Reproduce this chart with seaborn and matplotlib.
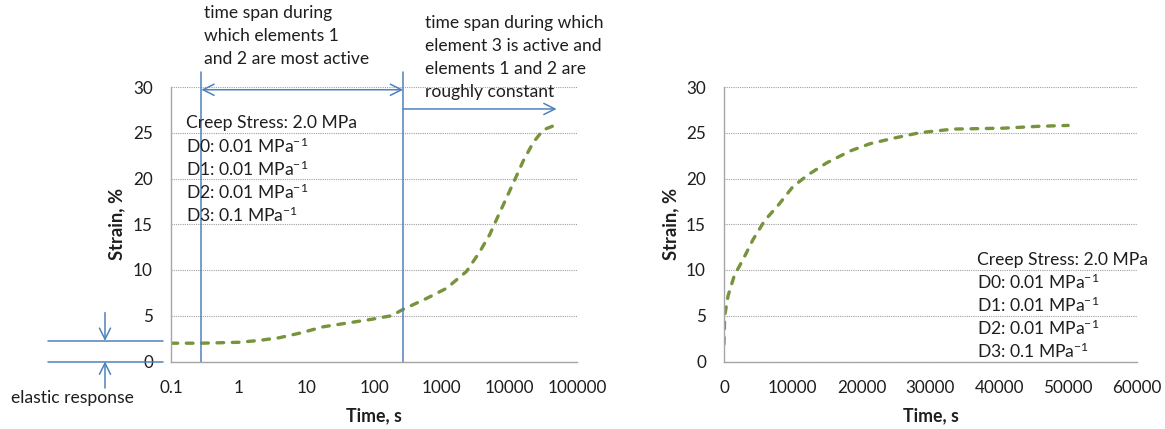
import numpy as np
import pandas as pd
import seaborn as sns
import matplotlib.pyplot as plt
from matplotlib.ticker import FixedLocator, FixedFormatter, NullLocator

# creep curve
time_log = [0.1, 0.28, 1, 2, 4, 8, 18, 40, 90, 180, 270, 600, 1180, 2330, 3660,
            5150, 6450, 9100, 12100, 16000, 22400, 31500, 50000]
strain_log = [2.0, 2.0, 2.1, 2.3, 2.6, 3.1, 3.8, 4.2, 4.6, 5.0, 5.7, 6.9, 8.0, 9.85, 12.0,
              13.9, 15.5, 17.9, 19.9, 21.9, 23.9, 25.3, 25.9]

# same curve
time_lin = [0, 100, 600, 1500, 2800, 4200, 5900, 7900, 10000, 12200, 14900, 18300,
            21200, 24600, 28400, 33300, 40600, 45600, 50000]
strain_lin = [1.9, 5.0, 7.2, 9.4, 11.2, 13.3, 15.4, 17.1, 19.1, 20.4, 21.7, 23.0,
              23.8, 24.4, 25.0, 25.4, 25.5, 25.7, 25.8]

log_ticks = [0.1, 1, 10, 100, 1000, 10000, 100000]
log_labels = ["0.1", "1", "10", "100", "1000", "10000", "100000"]
lin_ticks = [0, 10000, 20000, 30000, 40000, 50000, 60000]
lin_labels = ["0", "10000", "20000", "30000", "40000", "50000", "60000"]
y_ticks = [0, 5, 10, 15, 20, 25, 30]

span_edges = [0.28, 270]      # vertical markers on the log chart
span_end = 50000
elastic_level = 2.25

params = ["Creep Stress: 2.0 MPa",
          "D0: 0.01 MPa$^{-1}$",
          "D1: 0.01 MPa$^{-1}$",
          "D2: 0.01 MPa$^{-1}$",
          "D3: 0.1 MPa$^{-1}$"]
note_left = ["time span during", "which elements 1", "and 2 are most active"]
note_right = ["time span during which", "element 3 is active and",
              "elements 1 and 2 are", "roughly constant"]

GREEN = "#77933C"
BLUE = "#4F81BD"
GREY = "#A6A6A6"
TXT = "#1E1E1E"
FS = 12.6

sns.set_style("white")
plt.rcParams["font.family"] = ["Lato", "DejaVu Sans"]
plt.rcParams["mathtext.fontset"] = "custom"
plt.rcParams["mathtext.rm"] = "Lato"
plt.rcParams["mathtext.default"] = "regular"
plt.rcParams["text.color"] = TXT

W, H = 1165, 429
fig = plt.figure(figsize=(W / 100, H / 100), dpi=100)
ax1 = fig.add_axes([171 / W, 1 - 361.5 / H, 406 / W, 274.5 / H])
ax2 = fig.add_axes([724 / W, 1 - 361.5 / H, 413 / W, 274.5 / H])

df_log = pd.DataFrame({"t": time_log, "strain": strain_log})
df_lin = pd.DataFrame({"t": time_lin, "strain": strain_lin})

for ax, df in ((ax1, df_log), (ax2, df_lin)):
    sns.lineplot(data=df, x="t", y="strain", ax=ax, color=GREEN, linewidth=2.4,
                 estimator=None, sort=False)
    ln = ax.lines[-1]
    ln.set_dashes([2.0, 2.6])
    ln.set_dash_capstyle("round")
    ax.set_ylim(0, 30)
    ax.yaxis.set_major_locator(FixedLocator(y_ticks))
    ax.grid(axis="y", color="#A0A0A0", linestyle=(0, (1, 1)), linewidth=0.8)
    ax.grid(axis="x", visible=False)
    for s in ("top", "right"):
        ax.spines[s].set_visible(False)
    for s in ("left", "bottom"):
        ax.spines[s].set_color(GREY)
        ax.spines[s].set_linewidth(1.0)
    ax.tick_params(length=0, pad=13, labelsize=12.3, colors=TXT)
    ax.set_xlabel("Time, s", fontsize=12.8, fontweight="bold", color=TXT)
    ax.set_ylabel("Strain, %", fontsize=13.2, fontweight="bold", color=TXT)
    ax.xaxis.set_label_coords(0.5, -0.165)
    ax.set_axisbelow(True)

ax1.yaxis.set_label_coords(-0.112, 0.5)
ax2.yaxis.set_label_coords(-0.108, 0.5)

ax1.set_xscale("log")
ax1.set_xlim(log_ticks[0], log_ticks[-1])
ax1.xaxis.set_major_locator(FixedLocator(log_ticks))
ax1.xaxis.set_major_formatter(FixedFormatter(log_labels))
ax1.xaxis.set_minor_locator(NullLocator())

ax2.set_xlim(lin_ticks[0], lin_ticks[-1])
ax2.xaxis.set_major_locator(FixedLocator(lin_ticks))
ax2.xaxis.set_major_formatter(FixedFormatter(lin_labels))

# parameter blocks
step = 23 * 0.72
for ax, x0, y0 in ((ax1, (186 - 171) / 406, (361.5 - 123) / 274.5),
                   (ax2, (977 - 724) / 413, (361.5 - 259.5) / 274.5)):
    for i, line in enumerate(params):
        ax.annotate(line, xy=(x0, y0), xycoords="axes fraction",
                    xytext=(0, -i * step), textcoords="offset points",
                    ha="left", va="center", fontsize=FS, annotation_clip=False)

# notes above the log chart
for i, line in enumerate(note_left):
    ax1.annotate(line, xy=((204 - 171) / 406, (361.5 - 12.7) / 274.5),
                 xycoords="axes fraction", xytext=(0, -i * step),
                 textcoords="offset points", ha="left", va="center",
                 fontsize=FS, annotation_clip=False)
for i, line in enumerate(note_right):
    ax1.annotate(line, xy=((425 - 171) / 406, (361.5 - 22.7) / 274.5),
                 xycoords="axes fraction", xytext=(0, -i * step),
                 textcoords="offset points", ha="left", va="center",
                 fontsize=FS, annotation_clip=False)

# span markers
top = (361.5 - 72) / 274.5 * 30
for x in span_edges:
    ax1.plot([x, x], [0, top], color=BLUE, linewidth=1.1, clip_on=False)
head = "head_length=0.8,head_width=0.4"
ax1.annotate("", xy=(span_edges[1], 29.7), xytext=(span_edges[0], 29.7),
             arrowprops=dict(arrowstyle="<->," + head, color=BLUE, lw=1.1,
                             shrinkA=0, shrinkB=0, mutation_scale=10),
             annotation_clip=False)
ax1.annotate("", xy=(span_end, 27.6), xytext=(span_edges[1], 27.6),
             arrowprops=dict(arrowstyle="->," + head, color=BLUE, lw=1.1,
                             shrinkA=0, shrinkB=0, mutation_scale=10),
             annotation_clip=False)

# elastic response marker
bt = ax1.get_yaxis_transform()
x_a, x_b = (48 - 171) / 406, (163 - 171) / 406
x_m = (105 - 171) / 406
for lvl in (elastic_level, 0):
    ax1.plot([x_a, x_b], [lvl, lvl], color=BLUE, linewidth=1.1, transform=bt,
             clip_on=False)
ax1.annotate("", xy=(x_m, elastic_level), xytext=(x_m, 5.35), xycoords=bt,
             arrowprops=dict(arrowstyle="->," + head, color=BLUE, lw=1.1,
                             shrinkA=0, shrinkB=0, mutation_scale=10),
             annotation_clip=False)
ax1.annotate("", xy=(x_m, 0), xytext=(x_m, -2.9), xycoords=bt,
             arrowprops=dict(arrowstyle="->," + head, color=BLUE, lw=1.1,
                             shrinkA=0, shrinkB=0, mutation_scale=10),
             annotation_clip=False)
ax1.text((72 - 171) / 406, -(398 - 361.5) / 274.5, "elastic response",
         transform=ax1.transAxes, ha="center", va="center", fontsize=FS)

fig.savefig("out.png", dpi=100)
